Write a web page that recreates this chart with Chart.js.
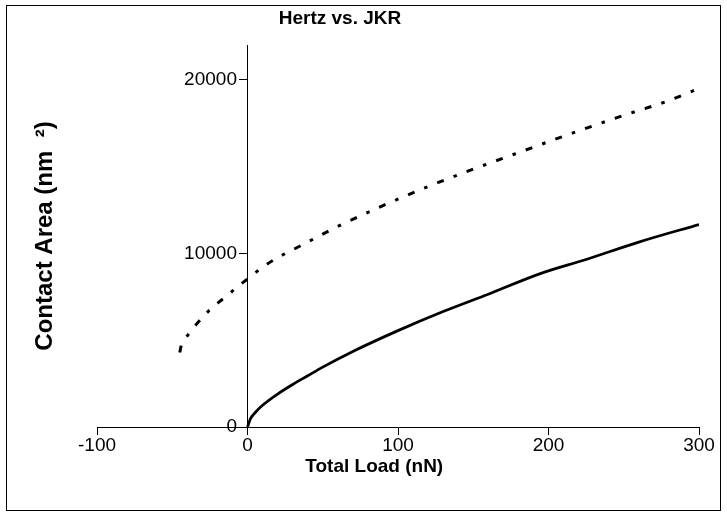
<!DOCTYPE html>
<html>
<head>
<meta charset="utf-8">
<script src="https://cdn.jsdelivr.net/npm/chart.js@4.4.1/dist/chart.umd.min.js"></script>
<style>
  html, body { margin: 0; padding: 0; background: #fff; }
  #c { display: block; }
</style>
</head>
<body>
<canvas id="c" width="727" height="517"></canvas>
<script>
// ---- data ----
const hertzLoad = [0, 2, 5, 10, 20, 30, 40, 50, 70, 100, 130, 160, 195, 225, 260, 300];
const hertzArea = [0, 480, 820, 1250, 1900, 2450, 2950, 3450, 4350, 5550, 6650, 7650, 8850, 9650, 10650, 11660];

const jkrLoad = [-45, -44, -42, -40, -36, -30, -25, -17, -13, -7, 0, 10, 20, 30, 60, 90, 120, 150, 180, 215, 250, 280, 300];
const jkrArea = [4290, 4700, 5000, 5250, 5700, 6300, 6750, 7330, 7600, 8060, 8520, 9200, 9750, 10200, 11550, 12750, 13850, 14850, 15800, 16900, 17950, 18800, 19500];

const xTicks = [-100, 0, 100, 200, 300];
const yTicks = [0, 10000, 20000];

const titleText = 'Hertz vs. JKR';
const xTitle = 'Total Load (nN)';
const yTitle = 'Contact Area (nm  ²)';

// ---- chart ----
const FONT = '"Liberation Sans", Arial, Helvetica, sans-serif';
const toPts = (xs, ys) => xs.map((x, i) => ({ x: x, y: ys[i] }));

const framePlugin = {
  id: 'frame',
  afterDraw(chart) {
    const ctx = chart.ctx;
    ctx.save();
    ctx.strokeStyle = '#000';
    ctx.lineWidth = 1;
    ctx.strokeRect(6.5, 5.5, 714, 505);
    ctx.restore();
  }
};

new Chart(document.getElementById('c'), {
  type: 'scatter',
  data: {
    datasets: [
      {
        label: 'Hertz',
        data: toPts(hertzLoad, hertzArea),
        showLine: true,
        borderColor: '#000',
        backgroundColor: '#000',
        borderWidth: 2.75,
        pointRadius: 0,
        cubicInterpolationMode: 'monotone',
        yAxisID: 'y'
      },
      {
        label: 'JKR',
        data: toPts(jkrLoad, jkrArea),
        showLine: true,
        borderColor: '#000',
        backgroundColor: '#000',
        borderWidth: 3,
        borderDash: [7, 10.5, 3.5, 10.5],
        pointRadius: 0,
        cubicInterpolationMode: 'monotone',
        yAxisID: 'y'
      }
    ]
  },
  options: {
    responsive: false,
    animation: false,
    devicePixelRatio: 1,
    layout: { padding: { left: -19, right: 28, top: 0, bottom: 41 } },
    plugins: {
      legend: { display: false },
      tooltip: { enabled: false },
      title: {
        display: true,
        text: titleText,
        color: '#000',
        font: { family: FONT, size: 19, weight: 'bold' },
        padding: { top: 7, bottom: 15.2 }
      }
    },
    scales: {
      x: {
        type: 'linear',
        position: 'bottom',
        min: -100,
        max: 300,
        afterBuildTicks: (s) => { s.ticks = xTicks.map(v => ({ value: v })); },
        ticks: {
          color: '#000',
          font: { family: FONT, size: 19, lineHeight: 1 },
          padding: 1.5,
          maxRotation: 0
        },
        grid: { display: true, drawOnChartArea: false, drawTicks: true, tickLength: 8, tickWidth: 1, tickColor: '#000', color: '#000' },
        border: { display: true, color: '#000', width: 1 },
        title: {
          display: true,
          text: xTitle + '         ',
          color: '#000',
          font: { family: FONT, size: 19, weight: 'bold', lineHeight: 1 },
          padding: { top: 0, bottom: 0 }
        }
      },
      y: {
        type: 'linear',
        position: { x: 0 },
        min: 0,
        max: 22000,
        afterBuildTicks: (s) => { s.ticks = yTicks.map(v => ({ value: v })); },
        ticks: {
          color: '#000',
          font: { family: FONT, size: 19 },
          callback: (v) => String(v) + '  '
        },
        grid: { display: true, drawOnChartArea: false, drawTicks: true, tickLength: 8, tickWidth: 1, tickColor: '#000', color: '#000' },
        border: { display: true, color: '#000', width: 1 }
      },
      yt: {
        type: 'linear',
        position: 'left',
        min: 0,
        max: 22000,
        ticks: { display: false },
        grid: { display: false, drawTicks: false, tickLength: 0 },
        border: { display: false },
        title: {
          display: true,
          text: yTitle,
          color: '#000',
          font: { family: FONT, size: 24, weight: 'bold', lineHeight: 1 },
          padding: { top: 52, bottom: 40 }
        }
      }
    }
  },
  plugins: [framePlugin]
});
</script>
</body>
</html>
